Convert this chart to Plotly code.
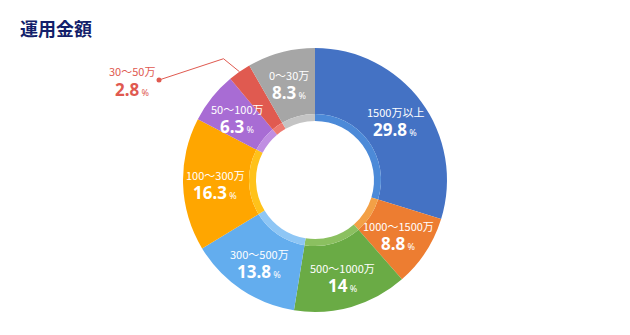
import math
import plotly.graph_objects as go

# Data
categories = ["1500万以上", "1000～1500万", "500～1000万", "300～500万",
              "100～300万", "50～100万", "30～50万", "0～30万"]
shares = [29.8, 8.8, 14, 13.8, 16.3, 6.3, 2.8, 8.3]
colors = ["#4472C4", "#ED7D31", "#6AAB45", "#63ADEE",
          "#FFA600", "#A86CD4", "#E05A50", "#A6A6A6"]
band_colors = ["#4C8AD8", "#F3A046", "#8BC060", "#8EC6F5",
               "#FFC21A", "#C08EE2", "#EE7A70", "#C4C4C4"]
callout_category = "30～50万"

W, H = 630, 335
CX, CY = 315, 180          # donut centre (px)
R_OUT, R_GLOW, R_IN = 132, 66, 59
R_TEXT = 100
FONT = "Noto Sans CJK JP"
NUM_FONT = "Noto Sans"


def px(x):
    return x / W


def py(y):
    return 1 - y / H


def domain(r):
    return dict(x=[px(CX - r), px(CX + r)], y=[py(CY + r), py(CY - r)])


fig = go.Figure()

# main ring
fig.add_trace(go.Pie(
    labels=categories, values=shares, sort=False, direction="clockwise",
    rotation=0, hole=R_GLOW / R_OUT, domain=domain(R_OUT),
    marker=dict(colors=colors, line=dict(width=0)),
    textinfo="none", hoverinfo="label+value", showlegend=False,
))

# lighter inner band
fig.add_trace(go.Pie(
    labels=categories, values=shares, sort=False, direction="clockwise",
    rotation=0, hole=R_IN / R_GLOW, domain=domain(R_GLOW),
    marker=dict(colors=band_colors, line=dict(width=0)),
    textinfo="none", hoverinfo="skip", showlegend=False,
))

total = sum(shares)
annotations = []
shapes = []
cum = 0.0
for cat, val, col in zip(categories, shares, colors):
    mid = (cum + val / 2) / total * 2 * math.pi
    cum += val
    val_txt = f"{val:g}"
    gap_up, gap_down = 8.5, 9
    if cat == callout_category:
        # outside label with leader line
        ex = CX + R_OUT * math.sin(mid)
        ey = CY - R_OUT * math.cos(mid)
        kx, ky = ex - 16, ey - 13
        dx_, dy_ = 159, 80
        shapes.append(dict(type="path", xref="paper", yref="paper",
                           path=f"M {px(ex)},{py(ey)} L {px(kx)},{py(ky)} L {px(dx_)},{py(dy_)}",
                           line=dict(color=col, width=1)))
        shapes.append(dict(type="circle", xref="paper", yref="paper",
                           x0=px(dx_ - 2.5), x1=px(dx_ + 2.5),
                           y0=py(dy_ + 2.5), y1=py(dy_ - 2.5),
                           fillcolor=col, line=dict(width=0)))
        tx, ty, tcol = 132, 80, col
        gap_up, gap_down = 9.5, 9.5
    else:
        tx = CX + R_TEXT * math.sin(mid)
        ty = CY - R_TEXT * math.cos(mid)
        tcol = "white"
    annotations.append(dict(
        x=px(tx), y=py(ty - gap_up), xref="paper", yref="paper", showarrow=False,
        text=cat, font=dict(family=FONT, size=11, color=tcol), borderpad=0,
        xanchor="center", yanchor="middle"))
    annotations.append(dict(
        x=px(tx), y=py(ty + gap_down), xref="paper", yref="paper", showarrow=False,
        text=f"<b>{val_txt}</b><span style='font-size:9px'> %</span>",
        font=dict(family=NUM_FONT, size=17, color=tcol), borderpad=0,
        xanchor="center", yanchor="middle"))

annotations.append(dict(
    x=px(18), y=py(28), xref="paper", yref="paper", showarrow=False,
    text="<b>運用金額</b>", font=dict(family=FONT, size=18, color="#131F6B"),
    xanchor="left", yanchor="middle"))

fig.update_layout(
    width=W, height=H, margin=dict(l=0, r=0, t=0, b=0),
    paper_bgcolor="white", plot_bgcolor="white",
    annotations=annotations, shapes=shapes, showlegend=False,
)

fig.write_html("out.html")
